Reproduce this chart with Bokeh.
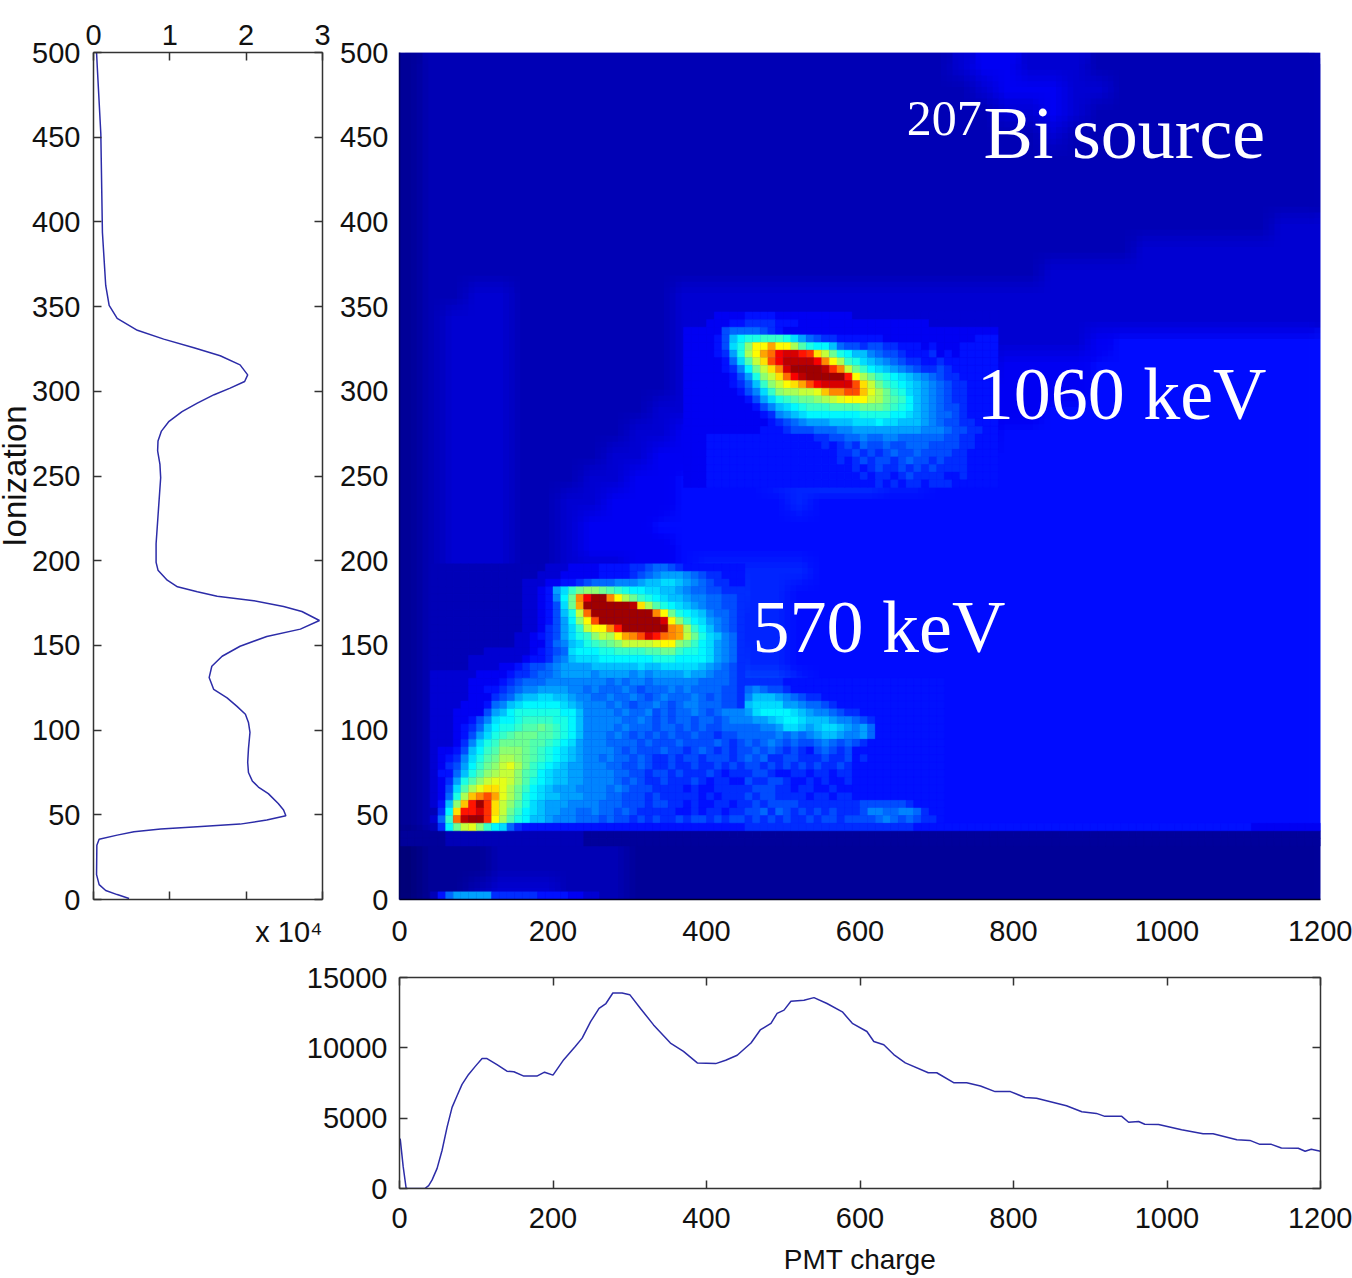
from bokeh.embed import file_html
from bokeh.layouts import column, row
from bokeh.models import (ColumnDataSource, FixedTicker, Label, LinearAxis, LinearColorMapper,
                          Range1d, Spacer, Title)
from bokeh.plotting import figure
from bokeh.resources import INLINE
import numpy as np

# ---------- data ----------
LEVELS = "0123456789abcdefghijklmnopqrstuvwxyz"

# coarse map, top row first, 40 columns x 37 rows (jet level as one character)
HEAT_BASE = """
1222222222 2222222222 2222344333 2222222222
1222222222 2222222222 2222234443 3222222222
1222222222 2222222222 2222223343 2222222222
1222222222 2222222222 2222222232 2222222222
1222222222 2222222222 2222222222 2222222222
1222222222 2222222222 2222222222 2222222222
1222222222 2222222222 2222222222 2222222222
1222222222 2222222222 2222222222 2222222233
1222222222 2222222222 2222222222 2233333333
1222222222 2222222222 2222222233 3333333333
1223322222 2233333333 3333333333 3333333333
1233322222 2233333333 3333333333 3333333333
1233322222 2233456433 3333333333 4555555555
1233322222 2234579643 3333334444 5555555555
1233322222 2234567875 4444444444 5555555555
1233322222 2334556787 6544444455 5555555555
1233322222 3344556778 7654445555 5555555555
1233322223 3445566777 7665555555 5555555555
1233322233 4455556677 7665555555 5555555555
1233322334 4455555655 5555555555 5555555555
1233322344 4555555555 5555555555 5555555555
1233322344 4455555555 5555555555 5555555555
1233322333 4456666655 5555555555 5555555555
1233322333 4466766555 5555555555 5555555555
1233322333 4466666555 5555555555 5555555555
1233322333 4466666555 5555555555 5555555555
1233322333 4466766555 5555555555 5555555555
1233322333 4466777655 5555555555 5555555555
1233322333 4466777655 5555555555 5555555555
1233322333 4466777765 5555555555 5555555555
1233322333 4466777665 5555555555 5555555555
1233322333 4466777665 5555555555 5555555555
1233322333 4466777665 5555555555 5555555555
1233322333 4466777665 5555555555 5555555555
0111222222 1111111111 1111111111 1111111111
0111222222 1111111111 1111111111 1111111111
0112333222 1111111111 1111111111 1111111111
"""

# bin-resolution maps, top row first: PMT-charge bins across, ionization bins down
HEAT_LOW = """
2222222222 2222233344 4455556678 8765555555 5
2222222222 2222333444 4455556789 aaa9876655 5
2222222222 2233344556 7888999abb ccba987665 5
2222222222 223345acfh iihgfeddcc bba9887766 6
2222222222 2233459dhq vyyqmjhfed cbba998877 6
2222222222 2233457chp yyyyyyxnjg edcba98877 6
2222222222 2233457bek ryyyyyyyyq mhedcb9887 6
2222222222 2233457adi msyyyyyyyy wmifdca987 6
2222222222 2233467acf kmmquyyyyy yqpjfdb987 6
2222222222 2334567ace fikjmpqswu rqpkhecb98 6
2222222222 23344689bc efghikkkkl mmihfdca98 6
2222222333 33345678cd ddeeffffgg hhfeedca98 6
2222233333 33455689bc ccddddddde eeddddca98 6
2222233334 4567789aaa abbbbbbcbb cccccba987 6
3333334444 5667889aaa a9aaaa9a9a aaabaa9887 6
3333344445 6788899999 9998989989 9999988887 6
3333344556 7899aaaa99 8988898788 8989888877 6
3333344467 8abbccbba9 9889889878 9888987877 6
3333444589 bcdddddcba 9998987889 8789988877 6
33344447ab deeeeeeddb 9999898897 8788987899 9
33344579cd deffffeedb 9999988987 8788788789 9
3334568bde efgghgfedb 9999898887 8878787788 8
333457acef ghhhggfedb 9998987878 7877877677 8
333469cefh hhhggfedca 9998888787 7787777876 7
34457bdfgi iihgfedcba 9999878777 8776787676 7
34569ceghj jihgfedcba 9989887876 6767767776 7
3467adfhik ljhfedcbaa 9998877876 6766766767 6
3558begijk kigfdcbbaa 9999887767 7676667656 6
346aegikll kigedcbbaa 9999878766 7666765665 5
347cgjlnnl jhfdcbaaa9 9998987776 6665655666 6
348ejoqspl jhedcbbaaa 9998877767 6666656566 6
35biouytnk igecbaaa99 9988877767 7665655665 6
26dnuuwtnk hfdcbaa998 8988787666 6655656656 6
38frxyytmj gedbba9998 8878776767 6676776767 7
26dhklifdc 8655555555 5555555555 5555555555 5
"""

HEAT_HIGH = """
3333444455 5544444444 4433333333 3333333333 3
3334445566 6655544444 4444444444 4433333333 3
4444478888 7654444444 4444444444 4444444444 4
444457bdee fffeca8766 5555554444 4444444455 5
444457ceim mpmmjgeddb 8776776655 5454445555 5
444456aejm prvwwutnkh edbb987765 5564545555 5
4444458cgk nsvxxxxvqm jfecba9876 6556555555 5
44444569dh knqwyyyyxt qkhfdcba98 7667655555 5
44444457ae iknrvxyyyy yumjhfedcb a987665555 5
444444568b fikmnpsvww wwsnkhfedc ba98766555 5
4444444579 cfijjkkloq qssoljhfec ba98766555 5
4444444457 acefghhijk lmmmkjhgfd ba98766555 5
4444444445 79bcdefffg ggghhhgfed ba98776555 5
4444444444 569abcdddd dddeeeeddc ba98876555 5
4444444444 456789aaab bbcccdccbb ba98776655 5
4444444444 5556777888 99aaaaaaaa a999877665 5
4445555555 5555555667 7889889988 8888776655 5
4445555555 5555555565 6768778778 8877776655 5
4445555555 5555555555 6676767877 8777766555 5
4445555555 5555555555 6567677678 7767666555 5
4445555555 5555555555 5565676676 7676666555 5
4445555555 5555555555 5556566567 6666556555 5
4445555555 5555555555 5555565656 6566655555 5
"""

HEAT_TAIL = """
6666655555 5555555555 555555
8987765555 5555555555 555555
9bbba98766 5555555555 555555
bccccaa988 7655555555 555555
acddddcba9 9876655555 555555
9aabcddcbb ba99876555 555555
8899accbab ccba9a8555 555555
888898989a bba99a8555 555555
8789878778 9878765555 555555
7878767657 8767555555 555555
8786677666 7667565555 555555
7767676767 6676555555 555555
6776556656 6566555555 555555
7667765565 6556555555 555555
6777665665 5655555555 555555
7677666656 6566555555 555555
6767777666 6666677777 765555
7786876767 6766679988 998655
6767676676 7767777898 787665
6666666666 6666666666 665555
"""

HEAT_EDGE = "5555555555 5555555555 5555555555 5555555555 444444444"
HEAT_FLOOR = "258aaaaa666666 55554433"
HEAT_SHELF = """
1111112222 2222222222 2222111111 1111111111 1111111111 1111111111 1111111111 1111111111 1111111111 1111111111 1111111111 1111111111
1111112222 2222222222 2222111111 1111111111 1111111111 1111111111 1111111111 1111111111 1111111111 1111111111 1111111111 1111111111
"""

# left profile: ionization, counts / 1e4
ION_Y = [0.6, 2.9, 5.3, 8.8, 14.7, 32, 35.6, 38, 40, 41.6, 43, 44.5, 46.9, 49.4, 52.8, 56.7, 62.5, 66.4, 70, 75,
         81, 88.9, 98.7, 104.5, 109.4, 114, 119, 124, 131, 137.7, 143.6, 149.5, 155.3, 159.6, 164.7, 170, 173,
         176.4, 179, 181.7, 184.6, 188.5, 194.4, 199, 210, 229.6, 249, 257, 264.8, 270.6, 276.5, 282.3, 288, 293,
         298, 301.9, 305.8, 309.7, 315.6, 321, 325.7, 330.8, 336, 343, 350.7, 362.5, 393.7, 452, 491, 500]
ION_X = [.466, .31, .16, .074, .04, .044, .074, .31, .53, .88, 1.36, 1.92, 2.27, 2.52, 2.49, 2.42, 2.29, 2.16, 2.08,
         2.03, 2.02, 2.03, 2.05, 2.03, 1.99, 1.88, 1.75, 1.575, 1.515, 1.55, 1.685, 1.92, 2.27, 2.71, 2.96, 2.73,
         2.49, 2.1, 1.62, 1.36, 1.1, .966, .845, .82, .82, .85, .88, .87, .84, .845, .89, .99, 1.16, 1.36, 1.58,
         1.79, 1.98, 2.02, 1.92, 1.66, 1.315, .92, .575, .31, .205, .16, .117, .096, .05, .04]

# bottom profile: PMT charge, counts
PMT_X = [.9, 4.8, 8.7, 33, 38, 42.5, 49, 55.5, 62, 68.5, 75, 81.5, 90, 99, 107.6, 114, 127, 140, 149, 162, 179, 189,
         200, 214, 229, 238, 249, 260, 269, 278, 290, 300, 314, 331, 353, 370, 388, 412, 425, 440, 458, 470, 484,
         492, 501, 510, 527, 540, 557, 577, 590, 609, 618, 631, 644, 659, 689, 700, 722, 739, 757, 776, 796, 815,
         830, 869, 889, 908, 919, 941, 950, 963, 971, 989, 1019, 1047, 1060, 1091, 1108, 1121, 1136, 1149, 1171,
         1180, 1188, 1200]
PMT_V = [3540, 1550, 0, 0, 210, 610, 1430, 2720, 4360, 5770, 6590, 7400, 8110, 8700, 9235, 9235, 8810, 8340, 8300,
         7990, 7990, 8270, 8060, 9160, 10100, 10690, 11860, 12800, 13150, 13900, 13900, 13780, 12800, 11630, 10340,
         9750, 8930, 8880, 9120, 9470, 10340, 11270, 11740, 12450, 12680, 13310, 13380, 13570, 13150, 12560, 11740,
         11160, 10450, 10220, 9520, 8930, 8230, 8230, 7520, 7520, 7290, 6890, 6890, 6470, 6420, 5880, 5460, 5340,
         5130, 5130, 4710, 4760, 4570, 4550, 4170, 3890, 3890, 3470, 3420, 3140, 3140, 2880, 2860, 2650, 2790, 2650]

ION_TICKS = [0, 50, 100, 150, 200, 250, 300, 350, 400, 450, 500]
PMT_TICKS = [0, 200, 400, 600, 800, 1000, 1200]
COUNT_TICKS = [0, 1, 2, 3]
PMT_COUNT_TICKS = [0, 5000, 10000, 15000]

# ---------- styling ----------
TICK_FONT = "Liberation Sans"
TICK_SIZE = "29px"
LINE = "#2c2ca8"
AX = "#333333"
X_BIN = 10.0
Y_BIN = 500.0 / 111.0


def jet(t):
    r = np.clip(min(4 * t - 1.5, -4 * t + 4.5), 0, 1)
    g = np.clip(min(4 * t - 0.5, -4 * t + 3.5), 0, 1)
    b = np.clip(min(4 * t + 0.5, -4 * t + 2.5), 0, 1)
    return "#%02x%02x%02x" % (int(r * 255), int(g * 255), int(b * 255))


PALETTE = [jet(i / 255) for i in range(256)]


def rows_of(text):
    return [line.replace(" ", "") for line in text.strip().splitlines()]


def level(ch):
    return LEVELS.index(ch)


def style_axis(ax, labels=True, ticks=()):
    ax.axis_line_color = AX
    ax.axis_line_width = 1.5
    ax.major_tick_line_color = AX
    ax.major_tick_line_width = 1.5
    ax.major_tick_in = 8
    ax.major_tick_out = 0
    ax.minor_tick_line_color = None
    if labels:
        ax.major_label_text_font = TICK_FONT
        ax.major_label_text_font_size = TICK_SIZE
        ax.major_label_text_color = "#111111"
    else:
        ax.major_label_overrides = {t: "" for t in ticks}
        ax.major_label_standoff = 0


# ---------- left profile ----------
f1 = figure(width=342, height=962, toolbar_location=None, output_backend="svg",
            x_range=Range1d(0, 3), y_range=Range1d(0, 500), x_axis_location="above",
            min_border_left=100, min_border_right=13, min_border_top=52, min_border_bottom=57,
            margin=(0, 0, 0, -7))
f1.grid.visible = False
f1.outline_line_color = None
f1.xaxis.ticker = FixedTicker(ticks=COUNT_TICKS)
f1.yaxis.ticker = FixedTicker(ticks=ION_TICKS)
style_axis(f1.xaxis[0])
style_axis(f1.yaxis[0])
f1.xaxis.major_label_standoff = 8
f1.yaxis.major_label_standoff = 13
f1.yaxis.axis_label = "Ionization"
f1.yaxis.axis_label_text_font = TICK_FONT
f1.yaxis.axis_label_text_font_size = "33px"
f1.yaxis.axis_label_text_font_style = "normal"
f1.yaxis.axis_label_text_color = "#111111"
f1.yaxis.axis_label_standoff = -4
r_ax = LinearAxis(ticker=FixedTicker(ticks=ION_TICKS))
style_axis(r_ax, labels=False, ticks=ION_TICKS)
f1.add_layout(r_ax, "right")
b_ax = LinearAxis(ticker=FixedTicker(ticks=COUNT_TICKS))
style_axis(b_ax, labels=False, ticks=COUNT_TICKS)
f1.add_layout(b_ax, "below")
f1.add_layout(Title(text="x 10\u2074", align="right", text_font=TICK_FONT, text_font_size="29px",
                    text_font_style="normal", text_color="#111111", standoff=29), "below")
f1.line(ION_X, ION_Y, line_color=LINE, line_width=1.5)

# ---------- map ----------
f2 = figure(width=1017, height=962, toolbar_location=None, output_backend="svg",
            x_range=Range1d(0, 1200), y_range=Range1d(0, 500),
            min_border_left=64, min_border_right=32, min_border_top=52, min_border_bottom=57)
f2.grid.visible = False
f2.outline_line_color = None
f2.xaxis.ticker = FixedTicker(ticks=PMT_TICKS)
f2.yaxis.ticker = FixedTicker(ticks=ION_TICKS)
style_axis(f2.xaxis[0])
style_axis(f2.yaxis[0])
f2.xaxis.major_tick_in = 0
f2.yaxis.major_tick_in = 0
f2.xaxis.major_label_standoff = 21
f2.yaxis.major_label_standoff = 11
f2.xaxis.axis_line_color = "#000020"
f2.yaxis.axis_line_color = "#000060"

base_rows = rows_of(HEAT_BASE)[::-1]
base = np.array([[level(c) for c in line] for line in base_rows], dtype=float)
mapper = LinearColorMapper(palette=PALETTE, low=0, high=35)
# the same coarse map laid over itself at sub-cell shifts, which softens its block edges
CELL_X = 1200 / 40
CELL_Y = 500 / 37
STEPS = 4
f2.image(image=[base], x=0, y=0, dw=1200, dh=500, color_mapper=mapper)
layer = 1
for iy in range(STEPS):
    for ix in range(STEPS):
        layer += 1
        f2.image(image=[base],
                 x=(ix / STEPS - 0.5) * CELL_X, y=(iy / STEPS - 0.5) * CELL_Y,
                 dw=1200, dh=500, color_mapper=mapper, global_alpha=1.0 / layer)

lefts, rights, bottoms, tops, colors = [], [], [], [], []


def add_patch(rows, first_col, top_row):
    for j, line in enumerate(rows):
        k = top_row - j
        for i, ch in enumerate(line):
            c = first_col + i
            lefts.append(c * X_BIN)
            rights.append((c + 1) * X_BIN)
            bottoms.append(k * Y_BIN)
            tops.append((k + 1) * Y_BIN)
            colors.append(PALETTE[int(level(ch) / 35 * 255)])


add_patch(rows_of(HEAT_SHELF), 0, 8)
add_patch(rows_of(HEAT_LOW), 4, 43)
add_patch(rows_of(HEAT_HIGH), 37, 76)
add_patch(rows_of(HEAT_TAIL), 45, 28)
add_patch(rows_of(HEAT_EDGE), 71, 9)
add_patch(rows_of(HEAT_FLOOR), 4, 0)
f2.quad(left="l", right="r", bottom="b", top="t", fill_color="c", line_color="c", line_width=0.4,
        source=ColumnDataSource(dict(l=lefts, r=rights, b=bottoms, t=tops, c=colors)))

SERIF = "Liberation Serif"
for x, y, txt, size in [(661, 461, "207", "50px"), (761, 452.7, "Bi source", "74px"),
                        (752, 298.7, "1060 keV", "74px"), (460, 161, "570 keV", "74px")]:
    f2.add_layout(Label(x=x, y=y, text=txt, text_font=SERIF, text_font_size=size, text_color="white",
                        text_baseline="alphabetic"))

# ---------- bottom profile ----------
f3 = figure(width=1052, height=316, toolbar_location=None, output_backend="svg",
            x_range=Range1d(0, 1200), y_range=Range1d(0, 15000),
            min_border_left=99, min_border_right=32, min_border_top=15, min_border_bottom=90)
f3.grid.visible = False
f3.outline_line_color = None
f3.xaxis.ticker = FixedTicker(ticks=PMT_TICKS)
f3.yaxis.ticker = FixedTicker(ticks=PMT_COUNT_TICKS)
style_axis(f3.xaxis[0])
style_axis(f3.yaxis[0])
f3.xaxis.major_label_standoff = 19
f3.yaxis.major_label_standoff = 12
f3.xaxis.axis_label = "PMT charge"
f3.xaxis.axis_label_text_font = TICK_FONT
f3.xaxis.axis_label_text_font_size = "28px"
f3.xaxis.axis_label_text_font_style = "normal"
f3.xaxis.axis_label_text_color = "#111111"
f3.xaxis.axis_label_standoff = 13
for side, ticks in (("right", PMT_COUNT_TICKS), ("above", PMT_TICKS)):
    ax = LinearAxis(ticker=FixedTicker(ticks=ticks))
    style_axis(ax, labels=False, ticks=ticks)
    f3.add_layout(ax, side)
f3.line(PMT_X, PMT_V, line_color=LINE, line_width=1.5)

page = column(row(f1, f2), row(Spacer(width=300, height=316), f3), margin=(0, 0, 0, 0))
open("out.html", "w").write(file_html(page, INLINE))
